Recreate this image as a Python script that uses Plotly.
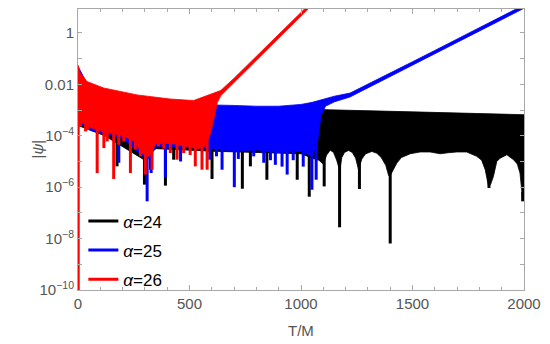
import numpy as np
import plotly.graph_objects as go

# ---------------- data (log10 |psi|) ----------------
# alpha = 26 (red)
red_t_upper = [0, 10, 40, 115, 265, 414, 518, 560, 600, 640, 700, 800, 900, 1000, 1040]
red_upper = [-1.24, -1.55, -1.89, -2.14, -2.41, -2.57, -2.63, -2.50, -2.38, -2.24, -1.76, -0.91, -0.05, 0.80, 1.14]
red_t_lower = [0, 20, 60, 120, 200, 250, 290, 320, 350, 420, 480, 540, 570, 595, 612, 625, 640, 700, 800, 900, 1000, 1040]
red_lower = [-3.4, -3.5, -3.7, -3.85, -4.0, -4.2, -4.7, -4.8, -4.3, -4.3, -4.4, -4.5, -4.4, -3.9, -3.2, -2.7, -2.44, -1.90, -1.05, -0.19, 0.66, 1.00]
red_spike_t = [1, 11, 34, 44, 86, 116, 131, 160, 183, 205, 235, 257, 280, 302, 332, 361, 384, 414, 444, 474, 503, 526, 556, 579]
red_spike_d = [-10.5, -3.64, -3.83, -3.77, -5.45, -4.48, -4.22, -5.68, -4.35, -4.22, -5.45, -4.54, -4.80, -5.51, -5.32, -4.41, -4.50, -4.67, -4.93, -4.67, -4.75, -5.19, -5.32, -5.32]

# alpha = 25 (blue)
blue_t_upper = [0, 40, 115, 265, 414, 518, 600, 700, 800, 900, 1000, 1050, 1100, 1150, 1220, 1300, 1400, 1500, 1600, 1700, 1800, 1900, 2000]
blue_upper = [-1.3, -1.95, -2.2, -2.5, -2.7, -2.76, -2.80, -2.82, -2.85, -2.85, -2.78, -2.70, -2.58, -2.46, -2.34, -2.00, -1.56, -1.12, -0.68, -0.23, 0.21, 0.65, 1.09]
blue_t_lower = [0, 60, 120, 200, 290, 320, 350, 450, 600, 700, 800, 900, 1000, 1050, 1075, 1090, 1110, 1150, 1220, 1300, 1400, 1500, 1600, 1700, 1800, 1900, 2000]
blue_lower = [-3.5, -3.8, -3.95, -4.1, -4.8, -4.9, -4.4, -4.45, -4.5, -4.6, -4.55, -4.65, -4.6, -4.8, -4.2, -3.2, -2.85, -2.68, -2.49, -2.13, -1.69, -1.25, -0.81, -0.36, 0.08, 0.52, 0.96]
blue_spike_t = [183, 310, 328, 392, 460, 591, 621, 646, 701, 719, 788, 833, 863, 885, 915, 938, 965, 1010, 1049, 1068]
blue_spike_d = [-5.05, -6.55, -5.45, -5.6, -5.0, -4.93, -4.8, -5.32, -6.0, -4.9, -4.8, -5.05, -4.95, -5.13, -5.2, -5.51, -4.95, -5.2, -6.1, -5.71]

# alpha = 24 (black)
black_t_upper = [0, 40, 115, 265, 500, 800, 1080, 1500, 2000]
black_upper = [-1.4, -2.0, -2.3, -2.6, -2.85, -2.93, -2.98, -3.07, -3.18]
black_t_lower = [0, 120, 290, 350, 600, 800, 1000, 1060, 1080, 1100, 1115, 1131, 1146, 1160, 1168, 1175, 1183, 1195, 1213, 1230, 1245, 1258,
                 1273, 1290, 1318, 1340, 1360, 1380, 1393, 1400, 1408, 1430, 1450, 1490, 1534, 1579, 1624, 1660, 1698, 1743, 1788,
                 1810, 1826, 1841, 1850, 1863, 1878, 1893, 1923, 1953, 1970, 1982, 1994, 2000]
black_lower = [-3.6, -4.0, -4.9, -4.5, -4.6, -4.65, -4.7, -4.9, -4.95, -5.1, -4.75, -4.56, -4.65, -4.95, -5.19, -5.3, -4.85, -4.65, -4.57, -4.65, -4.87, -5.32,
               -4.9, -4.7, -4.61, -4.68, -4.85, -5.15, -5.55, -5.55, -5.4, -5.06, -4.85, -4.70, -4.63, -4.63, -4.70, -4.66, -4.63, -4.63, -4.80,
               -4.95, -5.32, -5.97, -5.9, -5.58, -5.0, -4.87, -4.74, -4.93, -5.1, -5.45, -6.49, -6.5]
black_spike_t = [175, 298, 325, 392, 429, 601, 737, 773, 847, 983, 1037, 1104, 1173, 1262, 1400, 1843, 1994]
black_spike_d = [-5.19, -5.9, -5.32, -5.94, -4.93, -5.68, -6.06, -5.19, -5.71, -5.71, -6.37, -5.97, -7.56, -6.07, -8.19, -6.03, -6.55]

labels = ["<i>α</i>=24", "<i>α</i>=25", "<i>α</i>=26"]
colors = ["#000000", "#0000ff", "#ff0000"]

x_ticks = [0, 500, 1000, 1500, 2000]
y_tick_exp = list(range(-10, 1))


def y_label(e):
    if e % 2:
        return ""
    if e == 0:
        return "1"
    if e == -2:
        return "0.01"
    return "10<sup>\u2212%d</sup>" % (-e)


series = [
    (black_t_upper, black_upper, black_t_lower, black_lower, black_spike_t, black_spike_d),
    (blue_t_upper, blue_upper, blue_t_lower, blue_lower, blue_spike_t, blue_spike_d),
    (red_t_upper, red_upper, red_t_lower, red_lower, red_spike_t, red_spike_d),
]

fig = go.Figure()
for (tu, up, tl, lo, st, sd), lab, col in zip(series, labels, colors):
    xs = list(tu) + list(tl)[::-1]
    ys = [10 ** v for v in up] + [10 ** v for v in lo][::-1]
    fig.add_trace(go.Scatter(x=xs, y=ys, mode="lines", fill="toself", fillcolor=col,
                             line=dict(color=col, width=0.8), showlegend=False, hoverinfo="skip"))
    sx, sy = [], []
    for t, d in zip(st, sd):
        top = np.interp(t, tl, lo) + 0.3
        sx += [t, t, None]
        sy += [10 ** top, 10 ** d, None]
    fig.add_trace(go.Scatter(x=sx, y=sy, mode="lines", line=dict(color=col, width=3),
                             name=lab, legendgroup=lab, hoverinfo="skip"))

frame = "#a8a8a8"
fontfam = "Liberation Sans, Arial, sans-serif"
textgrey = "#555555"
tickfont = dict(family=fontfam, size=15, color=textgrey)
fig.update_xaxes(range=[0, 2000], showline=True, linecolor=frame, linewidth=1, mirror="ticks",
                 ticks="inside", ticklen=5, tickcolor=frame, tickvals=x_ticks,
                 minor=dict(dtick=100, ticks="inside", ticklen=3, tickcolor=frame),
                 showgrid=False, zeroline=False, tickfont=tickfont, automargin=False)
fig.update_yaxes(type="log", range=[-10, 0.932], showline=True, linecolor=frame, linewidth=1, mirror="ticks",
                 ticks="inside", ticklen=4, tickcolor=frame,
                 tickvals=[10.0 ** e for e in y_tick_exp], ticktext=[y_label(e) for e in y_tick_exp],
                 showgrid=False, zeroline=False, tickfont=tickfont, automargin=False)

# the page body has an 8px margin, so the figure is sized to fill the rest of the window
fig.update_layout(
    width=542, height=336,
    margin=dict(l=70, r=25.5, t=1, b=53.5),
    paper_bgcolor="white", plot_bgcolor="white",
    legend=dict(x=0.012, y=0.308, xanchor="left", yanchor="top", bgcolor="rgba(0,0,0,0)",
                font=dict(family=fontfam, size=17, color="#000000"),
                tracegroupgap=4, itemwidth=30),
    showlegend=True,
    annotations=[
        dict(text="T/M", xref="paper", yref="paper", x=0.5, y=0, yshift=-40, yanchor="middle",
             showarrow=False, font=dict(family=fontfam, size=15, color=textgrey)),
        dict(text="|<i>ψ</i>|", xref="paper", yref="paper", x=0, y=0.5, xshift=-41, xanchor="center",
             textangle=-90, showarrow=False, font=dict(family=fontfam, size=15, color=textgrey)),
    ],
)

fig.write_html("out.html")
